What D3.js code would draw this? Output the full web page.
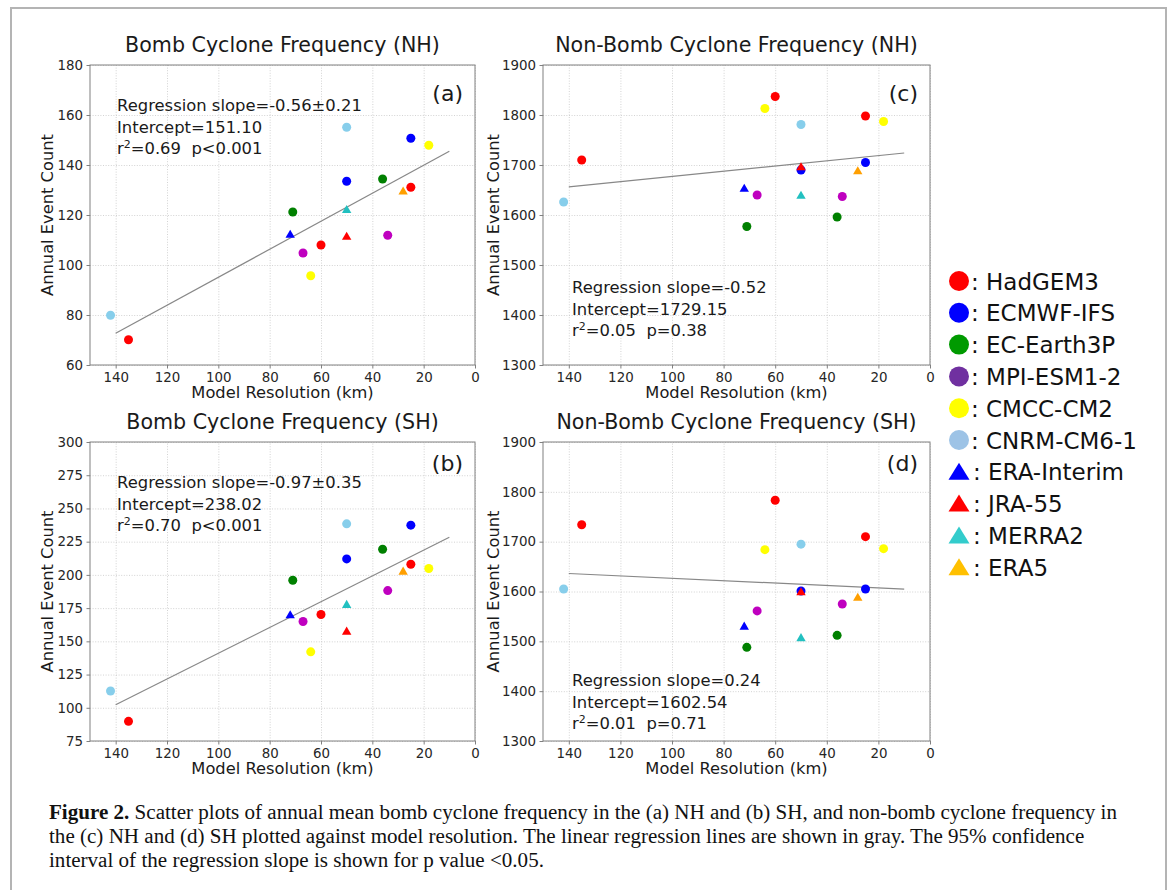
<!DOCTYPE html>
<html>
<head>
<meta charset="utf-8">
<script src="https://cdn.jsdelivr.net/npm/d3@7"></script>
<style>
  body { margin: 0; background: #fff; }
  svg text { font-family: "DejaVu Sans", sans-serif; }
</style>
</head>
<body>
<div id="fig"></div>
<script>
// --- data ---
const pointSeries = ["HadGEM3", "HadGEM3", "HadGEM3", "ECMWF-IFS", "ECMWF-IFS",
    "EC-Earth3P", "EC-Earth3P", "MPI-ESM1-2", "MPI-ESM1-2", "CMCC-CM2", "CMCC-CM2",
    "CNRM-CM6-1", "CNRM-CM6-1", "ERA-Interim", "JRA-55", "MERRA2", "ERA5"];
const resolutionKm = [135, 60, 25, 50, 25, 71, 36, 67, 34, 64, 18, 142, 50, 72, 50, 50, 28];

const bombNH    = [70.1, 108, 131.1, 133.5, 150.7, 121.2, 134.4, 104.8, 111.9, 95.7, 147.9, 79.9, 155.1, 112.4, 111.6, 122.3, 129.7];
const bombSH    = [89.8, 170.2, 208, 212, 237.4, 196, 219.3, 164.9, 188.2, 142.1, 204.8, 112.6, 238.4, 170.2, 157.9, 178, 203];
const nonBombNH = [1710, 1837, 1798, 1690, 1705, 1577, 1596, 1640, 1637, 1813, 1787, 1626, 1781, 1654, 1697, 1640, 1689];
const nonBombSH = [1734, 1783, 1710, 1601, 1605, 1488, 1512, 1561, 1575, 1684, 1686, 1605, 1695, 1531, 1600, 1508, 1589];

const slopes     = [-0.56, -0.97, -0.52, 0.24];
const intercepts = [151.10, 238.02, 1729.15, 1602.54];
const fitRange   = [140, 10];

const legendNames  = ["HadGEM3", "ECMWF-IFS", "EC-Earth3P", "MPI-ESM1-2", "CMCC-CM2", "CNRM-CM6-1",
    "ERA-Interim", "JRA-55", "MERRA2", "ERA5"];
const legendShapes = ["circle", "circle", "circle", "circle", "circle", "circle",
    "triangle", "triangle", "triangle", "triangle"];
const plotColors   = ["#ff0000", "#0000ff", "#008000", "#bf00bf", "#ffff00", "#87ceeb",
    "#0000ff", "#ff0000", "#22c0c0", "#ff9f00"];
const legendColors = ["#ff0000", "#0000ff", "#009a00", "#7030a0", "#ffff00", "#9dc3e6",
    "#0000ff", "#ff0000", "#33cccc", "#ffc000"];

const titles = ["Bomb Cyclone Frequency (NH)", "Bomb Cyclone Frequency (SH)",
    "Non-Bomb Cyclone Frequency (NH)", "Non-Bomb Cyclone Frequency (SH)"];
const panelTags = ["(a)", "(b)", "(c)", "(d)"];
const statLines = [
    ["Regression slope=-0.56\u00b10.21", "Intercept=151.10", ["0.69", "p<0.001"]],
    ["Regression slope=-0.97\u00b10.35", "Intercept=238.02", ["0.70", "p<0.001"]],
    ["Regression slope=-0.52", "Intercept=1729.15", ["0.05", "p=0.38"]],
    ["Regression slope=0.24", "Intercept=1602.54", ["0.01", "p=0.71"]]
];
const xTicks = [140, 120, 100, 80, 60, 40, 20, 0];
const yDomains = [[60, 180], [75, 300], [1300, 1900], [1300, 1900]];
const yTicks = [d3.range(60, 181, 20), d3.range(75, 301, 25), d3.range(1300, 1901, 100), d3.range(1300, 1901, 100)];

const captionLines = [
    ["Figure 2.", " Scatter plots of annual mean bomb cyclone frequency in the (a) NH and (b) SH, and non-bomb cyclone frequency in"],
    ["", "the (c) NH and (d) SH plotted against model resolution. The linear regression lines are shown in gray. The 95% confidence"],
    ["", "interval of the regression slope is shown for p value <0.05."]
];

// --- layout ---
const width = 1170, height = 890;
const panelBoxes = [
    {left: 90, top: 65, w: 385, h: 300, statX: 27, statY: [46, 67.5, 89], tagY: 36},
    {left: 90, top: 442, w: 385, h: 299, statX: 27, statY: [46, 67.5, 89], tagY: 29},
    {left: 543, top: 65, w: 387, h: 300, statX: 29, statY: [228, 249.5, 271], tagY: 36},
    {left: 543, top: 442, w: 387, h: 299, statX: 29, statY: [244, 265.5, 287], tagY: 29}
];
const allValues = [bombNH, bombSH, nonBombNH, nonBombSH];

const svg = d3.select("#fig").append("svg")
    .attr("width", width)
    .attr("height", height);

svg.append("rect").attr("width", width).attr("height", height).attr("fill", "#fff");

// figure frame
svg.append("path")
    .attr("d", "M11,890 V8 H1166 V890")
    .attr("fill", "none")
    .attr("stroke", "#b4b4b4")
    .attr("stroke-width", 2);

const triPath = "M0,-4.3L4.7,3.8L-4.7,3.8Z";

allValues.forEach((vals, i) => {
    const box = panelBoxes[i];
    const g = svg.append("g").attr("transform", `translate(${box.left},${box.top})`);

    const x = d3.scaleLinear().domain([150, 0]).range([0, box.w]);
    const y = d3.scaleLinear().domain(yDomains[i]).range([box.h, 0]);

    // grid
    g.append("g")
        .attr("transform", `translate(0,${box.h})`)
        .call(d3.axisBottom(x).tickValues(xTicks).tickSize(-box.h).tickFormat(""))
        .call(s => s.select(".domain").remove())
        .selectAll("line")
        .attr("stroke", "#c8c8c8").attr("stroke-width", 0.8).attr("stroke-dasharray", "1,1.6");
    g.append("g")
        .call(d3.axisLeft(y).tickValues(yTicks[i]).tickSize(-box.w).tickFormat(""))
        .call(s => s.select(".domain").remove())
        .selectAll("line")
        .attr("stroke", "#c8c8c8").attr("stroke-width", 0.8).attr("stroke-dasharray", "1,1.6");

    // axes
    const xAxis = g.append("g")
        .attr("transform", `translate(0,${box.h})`)
        .call(d3.axisBottom(x).tickValues(xTicks).tickFormat(d3.format("d"))
            .tickSize(3.5).tickSizeOuter(0).tickPadding(3.5));
    const yAxis = g.append("g")
        .call(d3.axisLeft(y).tickValues(yTicks[i]).tickFormat(d3.format("d"))
            .tickSize(3.5).tickSizeOuter(0).tickPadding(3.5));
    [xAxis, yAxis].forEach(a => {
        a.select(".domain").remove();
        a.selectAll("line").attr("stroke", "#808080");
        a.selectAll("text")
            .attr("font-family", "DejaVu Sans")
            .attr("font-size", "13.4px")
            .attr("fill", "#262626");
    });

    g.append("rect")
        .attr("width", box.w).attr("height", box.h)
        .attr("fill", "none").attr("stroke", "#808080").attr("stroke-width", 1);

    // regression line
    g.append("line")
        .attr("x1", x(fitRange[0])).attr("y1", y(intercepts[i] + slopes[i] * fitRange[0]))
        .attr("x2", x(fitRange[1])).attr("y2", y(intercepts[i] + slopes[i] * fitRange[1]))
        .attr("stroke", "#888").attr("stroke-width", 1.2);

    // points: model circles first, reanalysis triangles on top
    const pts = vals.map((v, k) => ({
        x: resolutionKm[k], y: v,
        idx: legendNames.indexOf(pointSeries[k])
    }));
    g.selectAll("circle.pt")
        .data(pts.filter(d => legendShapes[d.idx] === "circle"))
        .enter().append("circle")
        .attr("class", "pt")
        .attr("cx", d => x(d.x)).attr("cy", d => y(d.y))
        .attr("r", 4.5)
        .attr("fill", d => plotColors[d.idx]);
    g.selectAll("path.pt")
        .data(pts.filter(d => legendShapes[d.idx] === "triangle"))
        .enter().append("path")
        .attr("class", "pt")
        .attr("d", triPath)
        .attr("transform", d => `translate(${x(d.x)},${y(d.y)})`)
        .attr("fill", d => plotColors[d.idx]);

    // titles and labels
    g.append("text")
        .attr("x", box.w / 2).attr("y", -13)
        .attr("text-anchor", "middle")
        .attr("font-size", "20.6px").attr("fill", "#1a1a1a")
        .text(titles[i]);
    g.append("text")
        .attr("x", box.w / 2).attr("y", box.h + 33)
        .attr("text-anchor", "middle")
        .attr("font-size", "16.3px").attr("fill", "#1a1a1a")
        .text("Model Resolution (km)");
    g.append("text")
        .attr("transform", `translate(${i < 2 ? -37 : -44},${box.h / 2}) rotate(-90)`)
        .attr("text-anchor", "middle")
        .attr("font-size", "16.3px").attr("fill", "#1a1a1a")
        .text("Annual Event Count");

    g.append("text")
        .attr("x", box.w - 12).attr("y", box.tagY)
        .attr("text-anchor", "end")
        .attr("font-size", "22px").attr("fill", "#1a1a1a")
        .text(panelTags[i]);

    // regression stats
    const st = statLines[i];
    [st[0], st[1]].forEach((line, j) => {
        g.append("text")
            .attr("x", box.statX).attr("y", box.statY[j])
            .attr("font-size", "16.4px").attr("fill", "#1a1a1a")
            .text(line);
    });
    const r2 = g.append("text")
        .attr("x", box.statX).attr("y", box.statY[2])
        .attr("font-size", "16.4px").attr("fill", "#1a1a1a")
        .style("white-space", "pre");
    r2.append("tspan").text("r");
    r2.append("tspan").attr("dy", -6.5).attr("font-size", "11px").text("2");
    r2.append("tspan").attr("dy", 6.5).text(`=${st[2][0]}  ${st[2][1]}`);
});

// legend
const legend = svg.append("g").attr("transform", "translate(959,281)");
legendNames.forEach((name, k) => {
    const row = legend.append("g").attr("transform", `translate(0,${k * 31.8})`);
    if (legendShapes[k] === "circle") {
        row.append("circle").attr("r", 10).attr("fill", legendColors[k]);
    } else {
        row.append("path").attr("d", "M0,-9L10.5,8L-10.5,8Z").attr("fill", legendColors[k]);
    }
    row.append("text")
        .attr("x", legendShapes[k] === "circle" ? 12 : 14)
        .attr("y", 8.5)
        .attr("font-size", "23px").attr("fill", "#111")
        .style("white-space", "pre")
        .text(": " + name);
});

// caption
const capG = svg.append("g");
const capNodes = captionLines.map((parts, j) => {
    const t = capG.append("text")
        .attr("x", 49).attr("y", 819 + j * 24)
        .style("font-family", "'Liberation Serif', serif")
        .attr("font-size", "20.5px").attr("fill", "#111")
        .style("white-space", "pre");
    if (parts[0]) t.append("tspan").attr("font-weight", "bold").text(parts[0]);
    t.append("tspan").text(parts[1]);
    return t;
});
const natural = capNodes.map(t => t.node().getComputedTextLength());
const k = 1068 / natural[0];
capNodes.forEach((t, j) => {
    t.attr("textLength", natural[j] * k).attr("lengthAdjust", "spacingAndGlyphs");
});
</script>
</body>
</html>
